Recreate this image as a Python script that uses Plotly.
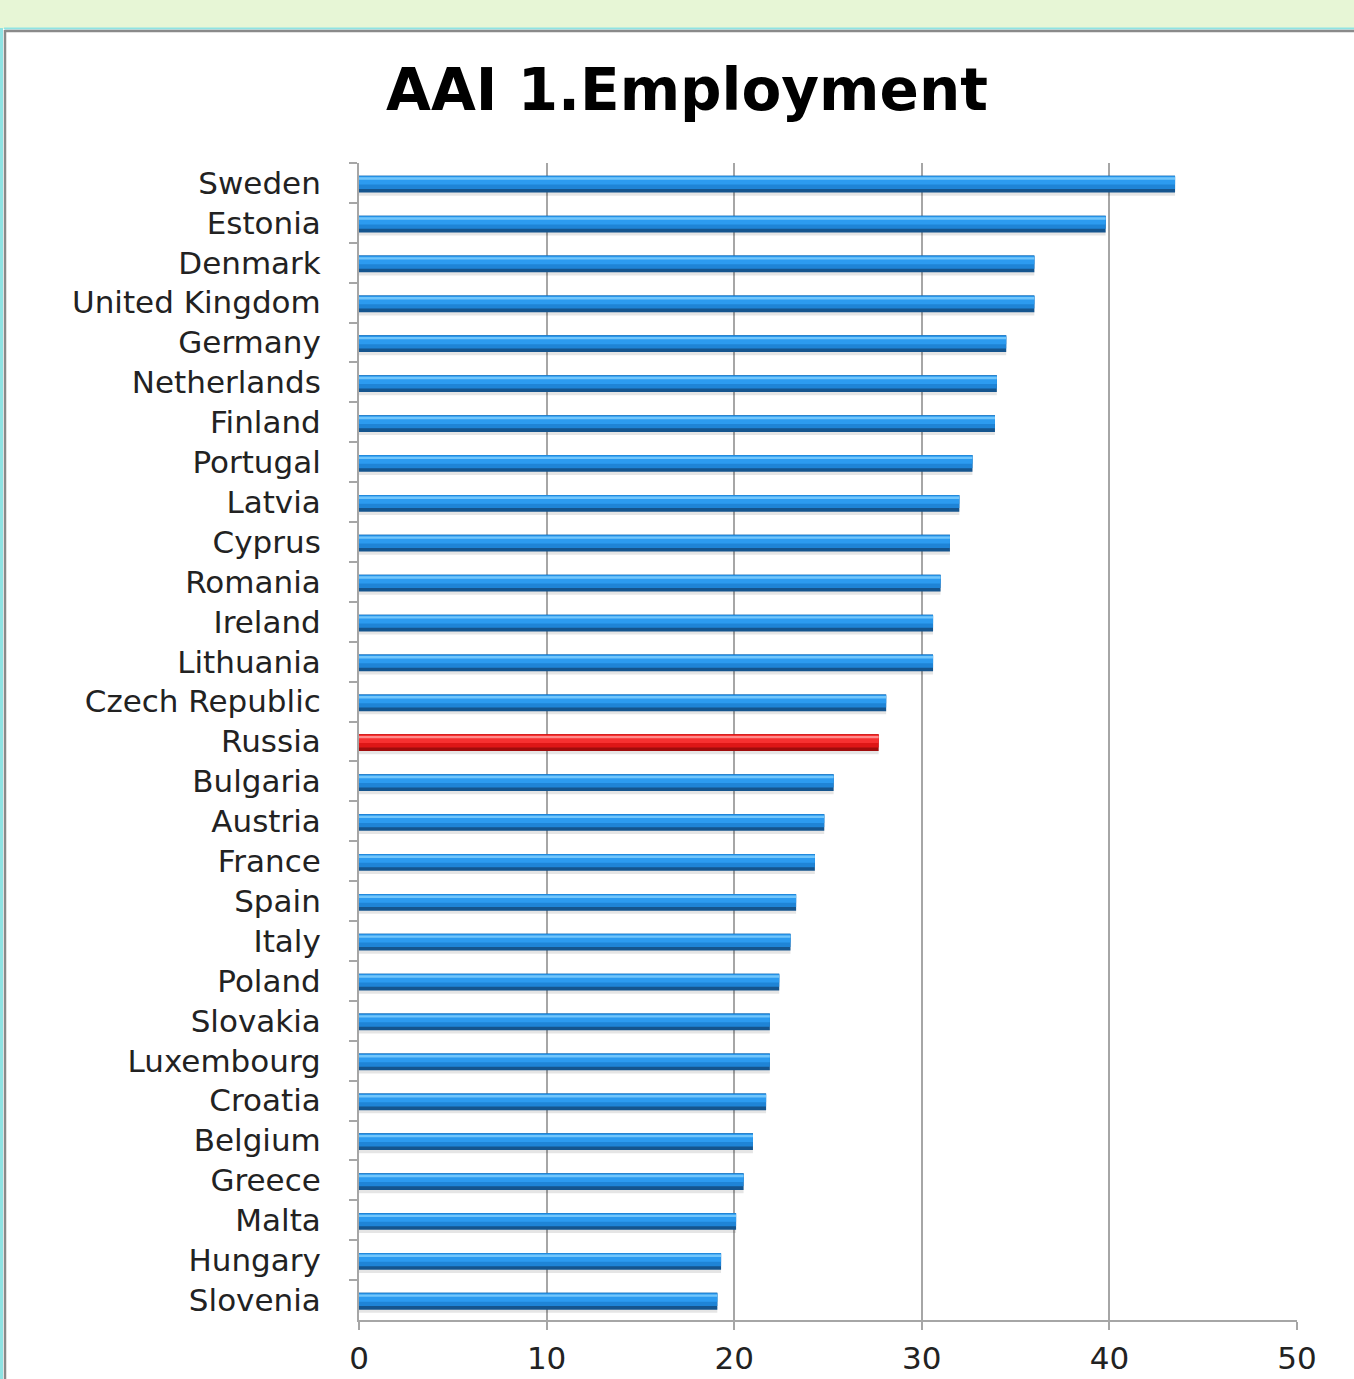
import plotly.graph_objects as go

# AAI domain 1 (Employment) scores by country, sorted high to low
countries = [
    "Sweden", "Estonia", "Denmark", "United Kingdom", "Germany", "Netherlands",
    "Finland", "Portugal", "Latvia", "Cyprus", "Romania", "Ireland", "Lithuania",
    "Czech Republic", "Russia", "Bulgaria", "Austria", "France", "Spain", "Italy",
    "Poland", "Slovakia", "Luxembourg", "Croatia", "Belgium", "Greece", "Malta",
    "Hungary", "Slovenia",
]
scores = [
    43.5, 39.8, 36.0, 36.0, 34.5, 34.0,
    33.9, 32.7, 32.0, 31.5, 31.0, 30.6, 30.6,
    28.1, 27.7, 25.3, 24.8, 24.3, 23.3, 23.0,
    22.4, 21.9, 21.9, 21.7, 21.0, 20.5, 20.1,
    19.3, 19.1,
]
highlight_country = "Russia"
x_ticks = [0, 10, 20, 30, 40, 50]

W, H = 1354, 1379
L, R, T, B = 359, 57, 163, 59
PW, PH = W - L - R, H - T - B


def px_x(px):
    return (px - L) / PW


def px_y(py):
    return (T + PH - py) / PH


# shaded layers that give each bar a tubular look (top highlight -> dark base)
blue = {"dark": "#15558e", "mid": "#1f84d6", "bright": "#2c9bf0", "hi": "#72c6fb"}
red = {"dark": "#a00c0c", "mid": "#de1616", "bright": "#f73030", "hi": "#ff8c8c"}


def shade(key):
    return [red[key] if c == highlight_country else blue[key] for c in countries]


layers = [
    # (color list, offset, width) in category units, offset measured downward
    (["rgba(0,0,0,0.10)"] * len(countries), 0.17, 0.15),
    (shade("dark"), -0.18, 0.42),
    (shade("mid"), -0.18, 0.33),
    (shade("bright"), -0.16, 0.20),
    (shade("hi"), -0.14, 0.06),
]

fig = go.Figure()
for cols, off, wd in layers:
    fig.add_trace(go.Bar(
        x=scores, y=countries, orientation="h",
        width=[wd] * len(countries), offset=[off] * len(countries),
        marker=dict(color=cols, line=dict(width=0)),
        hoverinfo="x+y", showlegend=False,
    ))

label_font = dict(family="DejaVu Sans", size=31, color="#222222")

fig.update_layout(
    width=W, height=H,
    margin=dict(l=L, r=R, t=T, b=B, autoexpand=False),
    paper_bgcolor="white", plot_bgcolor="white",
    barmode="overlay",
    title=dict(
        text="<b>AAI 1.Employment</b>",
        font=dict(family="DejaVu Sans", size=58, color="black"),
        x=687 / W, xref="container", xanchor="center",
        y=1 - 90 / H, yref="container", yanchor="middle",
    ),
    xaxis=dict(
        range=[0, 50], tickvals=x_ticks, ticktext=[str(v) for v in x_ticks],
        showgrid=True, gridcolor="#a6a6a6", gridwidth=1.5, zeroline=False,
        showline=True, linecolor="#a6a6a6", linewidth=2,
        ticks="outside", ticklen=8, tickcolor="#a6a6a6", tickwidth=1.5,
        tickfont=label_font, ticklabelstandoff=2, automargin=False,
    ),
    yaxis=dict(
        type="category", categoryorder="array", categoryarray=countries,
        range=[len(countries) - 0.5, -0.5],
        showgrid=False, zeroline=False,
        showline=True, linecolor="#a6a6a6", linewidth=2,
        ticks="outside", tickson="boundaries", ticklen=8,
        tickcolor="#a6a6a6", tickwidth=1.5,
        tickfont=label_font, ticklabelstandoff=30, automargin=False,
    ),
    shapes=[
        # light green strip along the top of the page
        dict(type="rect", xref="paper", yref="paper",
             x0=px_x(-10), x1=px_x(W + 10), y0=px_y(29), y1=px_y(-10),
             fillcolor="#e7f6d6", line=dict(width=0), layer="above"),
        # cyan glow and grey frame of the chart panel
        dict(type="line", xref="paper", yref="paper",
             x0=px_x(4), x1=px_x(W + 10), y0=px_y(28.5), y1=px_y(28.5),
             line=dict(color="#8fe3e3", width=2), layer="above"),
        dict(type="line", xref="paper", yref="paper",
             x0=px_x(5), x1=px_x(W + 10), y0=px_y(31), y1=px_y(31),
             line=dict(color="#8a8a8a", width=2.5), layer="above"),
        dict(type="line", xref="paper", yref="paper",
             x0=px_x(1.5), x1=px_x(1.5), y0=px_y(28), y1=px_y(H + 10),
             line=dict(color="#8fe3e3", width=3), layer="above"),
        dict(type="line", xref="paper", yref="paper",
             x0=px_x(5), x1=px_x(5), y0=px_y(30), y1=px_y(H + 10),
             line=dict(color="#8a8a8a", width=2.5), layer="above"),
    ],
)

fig.write_html("out.html")
